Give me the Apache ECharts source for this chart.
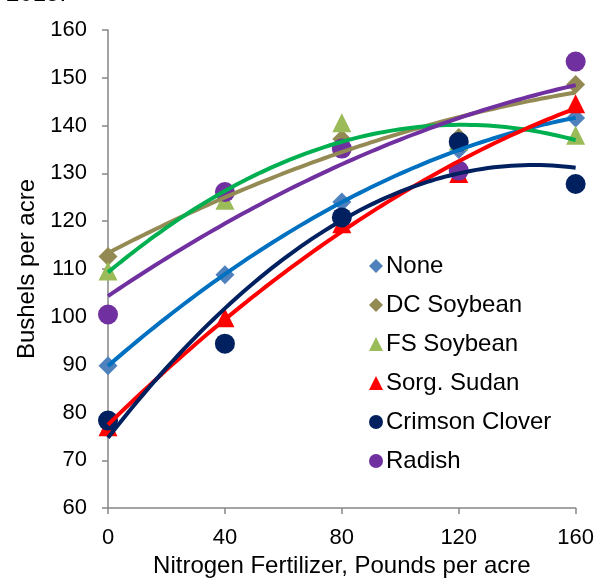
<!DOCTYPE html>
<html>
<head>
<meta charset="utf-8">
<script src="https://cdn.jsdelivr.net/npm/echarts@6/dist/echarts.min.js"></script>
<style>html,body{margin:0;padding:0;background:#fff}#c{width:597px;height:583px}</style>
</head>
<body>
<div id="c"></div>
<script>
// Data
var nitrogen = [0, 40, 80, 120, 160];
var xTicks = [0, 40, 80, 120, 160];
var yTicks = [60, 70, 80, 90, 100, 110, 120, 130, 140, 150, 160];
var seriesNames = ['None', 'DC Soybean', 'FS Soybean', 'Sorg. Sudan', 'Crimson Clover', 'Radish'];
var none = [89.8, 108.8, 124.0, 135.0, 141.6];
var dcSoybean = [112.6, 125.6, 137.2, 137.5, 148.6];
var fsSoybean = [109.6, 124.4, 140.6, 136.8, 138.0];
var sorgSudan = [77.0, 99.8, 119.5, 130.0, 144.6];
var crimsonClover = [78.3, 94.4, 120.8, 136.6, 127.8];
var radish = [100.5, 126.1, 135.2, 130.6, 153.4];

var values = [none, dcSoybean, fsSoybean, sorgSudan, crimsonClover, radish];
var markerColors = ['#4F81BD', '#938953', '#9BBB59', '#FF0000', '#002060', '#7030A0'];
var trendColors = ['#0070C0', '#948A54', '#00B050', '#FF0000', '#002060', '#7030A0'];
var symbols = ['diamond', 'diamond', 'triangle', 'triangle', 'circle', 'circle'];
var symbolSizes = [19, 19, 19, 19, 20, 20];

// least-squares quadratic trendline (as Excel's polynomial order 2)
function quadFit(xs, ys) {
  var n = xs.length, S = [0,0,0,0,0], T = [0,0,0];
  for (var i = 0; i < n; i++) {
    var p = 1;
    for (var k = 0; k <= 4; k++) { S[k] += p; if (k <= 2) T[k] += p * ys[i]; p *= xs[i]; }
  }
  var A = [[S[0],S[1],S[2],T[0]],[S[1],S[2],S[3],T[1]],[S[2],S[3],S[4],T[2]]];
  for (var c = 0; c < 3; c++) {
    for (var r = c + 1; r < 3; r++) {
      var f = A[r][c] / A[c][c];
      for (var j = c; j < 4; j++) A[r][j] -= f * A[c][j];
    }
  }
  var coef = [0,0,0];
  for (var r2 = 2; r2 >= 0; r2--) {
    var s = A[r2][3];
    for (var j2 = r2 + 1; j2 < 3; j2++) s -= A[r2][j2] * coef[j2];
    coef[r2] = s / A[r2][r2];
  }
  return coef;
}

var series = [];
var font = '"Liberation Sans", Arial, sans-serif';
values.forEach(function (v, i) {
  var coef = quadFit(nitrogen, v);
  var pts = [];
  for (var x = nitrogen[0]; x <= nitrogen[nitrogen.length - 1]; x += 2) {
    pts.push([x, coef[0] + coef[1] * x + coef[2] * x * x]);
  }
  series.push({
    name: seriesNames[i] + ' trend',
    type: 'line',
    data: pts,
    showSymbol: false,
    smooth: false,
    lineStyle: { color: trendColors[i], width: 4 },
    z: 5,
    silent: true,
    animation: false
  });
});
values.forEach(function (v, i) {
  series.push({
    name: seriesNames[i],
    type: 'scatter',
    data: nitrogen.map(function (x, k) { return [x, v[k]]; }),
    symbol: symbols[i],
    symbolSize: symbolSizes[i],
    itemStyle: { color: markerColors[i], opacity: 1 },
    z: 3,
    animation: false
  });
});

var chart = echarts.init(document.getElementById('c'), null, { renderer: 'canvas' });
chart.setOption({
  backgroundColor: '#fff',
  animation: false,
  textStyle: { fontFamily: font },
  graphic: [{
    type: 'text', left: 6, top: -18,
    style: { text: '2015.', font: '24px ' + font, fill: '#000' }
  }],
  grid: { left: 108, right: 21, top: 30, bottom: 72, containLabel: false },
  legend: {
    orient: 'vertical',
    left: 364,
    top: 249,
    itemWidth: 14,
    itemHeight: 14,
    itemGap: 15,
    data: seriesNames.map(function (n, i) { return { name: n, icon: symbols[i] }; }),
    textStyle: { fontSize: 24, color: '#000', fontFamily: font, padding: [0,0,0,-2] },
    selectedMode: false
  },
  xAxis: {
    type: 'value',
    min: xTicks[0], max: xTicks[xTicks.length - 1], interval: 40,
    name: 'Nitrogen Fertilizer, Pounds per acre',
    nameLocation: 'middle', nameGap: 41,
    nameTextStyle: { fontSize: 24, color: '#000', fontFamily: font },
    axisLine: { lineStyle: { color: '#868686', width: 1.5 } },
    axisTick: { show: true, length: 6, lineStyle: { color: '#868686', width: 1.5 } },
    axisLabel: { fontSize: 22, color: '#000', margin: 19, fontFamily: font },
    splitLine: { show: false }
  },
  yAxis: {
    type: 'value',
    min: yTicks[0], max: yTicks[yTicks.length - 1], interval: 10,
    name: 'Bushels per acre',
    nameLocation: 'middle', nameGap: 68, nameRotate: 90,
    nameTextStyle: { fontSize: 24, color: '#000', fontFamily: font },
    axisLine: { show: true, lineStyle: { color: '#868686', width: 1.5 } },
    axisTick: { show: true, length: 6, lineStyle: { color: '#868686', width: 1.5 } },
    axisLabel: { fontSize: 22, color: '#000', margin: 21, fontFamily: font },
    splitLine: { show: false }
  },
  series: series
});
</script>
</body>
</html>
